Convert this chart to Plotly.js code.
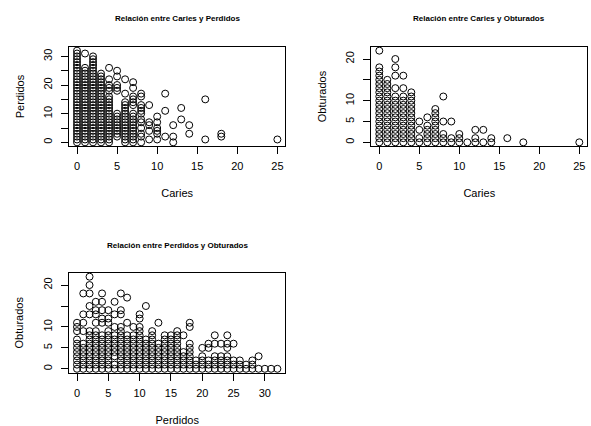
<!DOCTYPE html>
<html>
<head>
<meta charset="utf-8">
<script src="https://cdn.plot.ly/plotly-3.0.1.min.js"></script>
<style>
html, body { margin: 0; padding: 0; background: #ffffff; }
#chart { width: 591px; height: 426px; }
</style>
</head>
<body>
<div id="chart"></div>
<script>
// ---------- Data ----------
// Panel 1: Caries (x) vs Perdidos (y); one list of Perdidos values per Caries level
const p1CariesLevels = [0, 1, 2, 3, 4, 5, 6, 7, 8, 9, 10, 11, 12, 13, 14, 16, 18, 25];
const p1PerdidosByCaries = [
  [0,1,2,3,4,5,6,7,8,9,10,11,12,13,14,15,16,17,18,19,20,21,22,23,24,25,26,27,28,29,30,31,32],
  [0,1,2,3,4,5,6,7,8,9,10,11,12,13,14,15,16,17,18,19,20,21,22,23,24,25,26,31],
  [0,1,2,3,4,5,6,7,8,9,10,11,12,13,14,15,16,17,18,19,20,21,22,23,24,25,26,27,28,29,30],
  [0,1,2,3,4,5,6,7,8,9,10,11,12,13,14,15,16,17,18,19,20,21,22,23,24],
  [0,1,2,3,4,5,6,7,8,9,10,11,12,13,14,15,16,18,19,20,22,26],
  [2,3,4,5,6,7,8,9,10,18,19,20,23,25],
  [0,1,2,3,4,5,6,7,8,9,10,11,12,13,14,17,22],
  [0,1,2,3,4,5,6,7,8,9,10,13,14,15,16,19,21],
  [0,2,3,5,7,8,10,11,12,13,16,17],
  [1,4,6,7,13],
  [1,3,4,5,7,9],
  [2,11,17],
  [0,2,6],
  [8,12],
  [3,6],
  [1,15],
  [2,3],
  [1]
];

// Panel 2: Caries (x) vs Obturados (y)
const p2CariesLevels = [0, 1, 2, 3, 4, 5, 6, 7, 8, 9, 10, 11, 12, 13, 14, 16, 18, 25];
const p2ObturadosByCaries = [
  [0,1,2,3,4,5,6,7,8,9,10,11,12,13,14,15,16,17,18,22],
  [0,1,2,3,4,5,6,7,8,9,10,11,12,13,14,15],
  [0,1,2,3,4,5,6,7,8,9,10,11,13,16,18,20],
  [0,1,2,3,4,5,6,7,8,9,10,11,13,16],
  [0,1,2,3,4,5,6,7,8,9,10,11,12],
  [0,1,3,5],
  [0,1,2,3,4,6],
  [0,1,2,3,4,5,6,7,8],
  [0,1,2,5,11],
  [0,1,5],
  [0,1,2],
  [0],
  [0,1,3],
  [0,3],
  [0,1],
  [1],
  [0],
  [0]
];

// Panel 3: Perdidos (x) vs Obturados (y)
const p3PerdidosLevels = [0,1,2,3,4,5,6,7,8,9,10,11,12,13,14,15,16,17,18,19,20,21,22,23,24,25,26,27,28,29,30,31,32];
const p3ObturadosByPerdidos = [
  [0,1,2,3,4,5,6,7,9,10,11],
  [0,1,2,3,4,5,6,9,11,13,18],
  [0,1,2,3,4,5,6,7,8,9,13,15,18,20,22],
  [0,1,2,3,4,5,6,7,8,9,11,13,14,16],
  [0,1,2,3,4,5,6,7,8,11,12,14,16,18],
  [0,1,2,3,4,5,6,7,8,9,11,12,14],
  [0,1,3,4,5,6,7,8,10,13,16],
  [0,1,2,3,4,5,6,7,8,9,10,13,14,18],
  [0,1,2,3,4,5,6,7,8,11,17],
  [0,1,2,3,4,5,6,7,8,10],
  [0,1,2,3,4,5,6,7,8,9,10,12,13],
  [0,1,2,3,4,5,6,7,15],
  [0,1,2,3,4,5,6,7,8,9],
  [0,1,2,3,4,5,6,11],
  [0,1,2,3,4,5,6,7,8],
  [0,1,2,3,4,5,6,7,8],
  [0,1,2,3,4,5,6,7,8,9],
  [0,1,2,3,4,8],
  [0,1,2,3,4,5,6,10,11],
  [0,1,2],
  [0,1,2,3,5],
  [0,1,2,5,6],
  [0,1,2,3,6,8],
  [0,1,2,3,6],
  [0,1,2,3,5,6,8],
  [0,1,2,6],
  [0,1,2],
  [0,1],
  [0,1,2],
  [0,3],
  [0],
  [0],
  [0]
];

const titles = [
  "Relación entre Caries y Perdidos",
  "Relación entre Caries y Obturados",
  "Relación entre Perdidos y Obturados"
];
const xTitles = ["Caries", "Caries", "Perdidos"];
const yTitles = ["Perdidos", "Obturados", "Obturados"];

const p1YTickVals = [0, 5, 10, 15, 20, 25, 30];
const p1YTickText = ["0", "", "10", "", "20", "", "30"];
const p2YTickVals = [0, 5, 10, 15, 20];
const p2YTickText = ["0", "5", "10", "", "20"];
const p3YTickVals = [0, 5, 10, 15, 20];
const p3YTickText = ["0", "5", "10", "", "20"];
const cariesTickVals = [0, 5, 10, 15, 20, 25];
const perdidosTickVals = [0, 5, 10, 15, 20, 25, 30];

// ---------- Build point lists ----------
function flatten(levels, lists) {
  const xs = [], ys = [];
  levels.forEach((lv, i) => {
    lists[i].forEach(v => { xs.push(lv); ys.push(v); });
  });
  return { xs, ys };
}
const d1 = flatten(p1CariesLevels, p1PerdidosByCaries);
const d2 = flatten(p2CariesLevels, p2ObturadosByCaries);
const d3 = flatten(p3PerdidosLevels, p3ObturadosByPerdidos);

const FONT = "Liberation Sans, Arial, Helvetica, sans-serif";
const marker = { symbol: "circle-open", size: 7, color: "#000000", line: { width: 1, color: "#000000" } };

function trace(d, xa, ya) {
  return { type: "scatter", mode: "markers", x: d.xs, y: d.ys, xaxis: xa, yaxis: ya,
           marker: marker, hoverinfo: "x+y", showlegend: false, cliponaxis: false };
}

const W = 591, H = 426;
// plot boxes in pixels
const box1 = { l: 69, r: 285.4, t: 47, b: 146 };
const box2 = { l: 371.3, r: 587.3, t: 47, b: 146 };
const box3 = { l: 69, r: 285.4, t: 273, b: 372.5 };
const xd = b => [b.l / W, b.r / W];
const yd = b => [(H - b.b) / H, (H - b.t) / H];

function xAxis(b, range, tv, title, anchor) {
  return {
    domain: xd(b), range: range, anchor: anchor,
    tickmode: "array", tickvals: tv, ticktext: tv.map(String),
    ticks: "outside", ticklen: 7, tickwidth: 1, tickcolor: "#000",
    ticklabelstandoff: 3,
    showline: true, mirror: true, linecolor: "#000", linewidth: 1,
    showgrid: false, zeroline: false, fixedrange: true,
    tickfont: { family: FONT, size: 11, color: "#000" },
    title: { text: title, font: { family: FONT, size: 11, color: "#000" }, standoff: 18 },
    automargin: false
  };
}
function yAxis(b, range, tv, tt, title, anchor, standoff) {
  return {
    domain: yd(b), range: range, anchor: anchor,
    tickmode: "array", tickvals: tv, ticktext: tt, tickangle: -90,
    ticks: "outside", ticklen: 7, tickwidth: 1, tickcolor: "#000",
    ticklabelstandoff: 5,
    showline: true, mirror: true, linecolor: "#000", linewidth: 1,
    showgrid: false, zeroline: false, fixedrange: true,
    tickfont: { family: FONT, size: 11, color: "#000" },
    title: { text: title, font: { family: FONT, size: 11, color: "#000" }, standoff: standoff },
    automargin: false
  };
}

const layout = {
  width: W, height: H,
  margin: { l: 0, r: 0, t: 0, b: 0, pad: 0 },
  paper_bgcolor: "#ffffff", plot_bgcolor: "#ffffff",
  font: { family: FONT, color: "#000" },
  showlegend: false,
  xaxis:  xAxis(box1, [-1, 26], cariesTickVals, xTitles[0], "y"),
  yaxis:  yAxis(box1, [-1.28, 33.28], p1YTickVals, p1YTickText, yTitles[0], "x", 14),
  xaxis2: xAxis(box2, [-1, 26], cariesTickVals, xTitles[1], "y2"),
  yaxis2: yAxis(box2, [-0.88, 22.88], p2YTickVals, p2YTickText, yTitles[1], "x2", 15),
  xaxis3: xAxis(box3, [-1.28, 33.28], perdidosTickVals, xTitles[2], "y3"),
  yaxis3: yAxis(box3, [-0.88, 22.88], p3YTickVals, p3YTickText, yTitles[2], "x3", 15),
  annotations: [
    { text: "<b>" + titles[0] + "</b>", xref: "paper", yref: "paper",
      x: (box1.l + box1.r) / 2 / W, y: (H - 19) / H, xanchor: "center", yanchor: "middle",
      showarrow: false, font: { family: FONT, size: 8, color: "#000" } },
    { text: "<b>" + titles[1] + "</b>", xref: "paper", yref: "paper",
      x: (box2.l + box2.r) / 2 / W, y: (H - 19) / H, xanchor: "center", yanchor: "middle",
      showarrow: false, font: { family: FONT, size: 8, color: "#000" } },
    { text: "<b>" + titles[2] + "</b>", xref: "paper", yref: "paper",
      x: (box3.l + box3.r) / 2 / W, y: (H - 245) / H, xanchor: "center", yanchor: "middle",
      showarrow: false, font: { family: FONT, size: 8, color: "#000" } }
  ]
};

Plotly.newPlot("chart", [trace(d1, "x", "y"), trace(d2, "x2", "y2"), trace(d3, "x3", "y3")],
  layout, { displayModeBar: false, staticPlot: true });
</script>
</body>
</html>
